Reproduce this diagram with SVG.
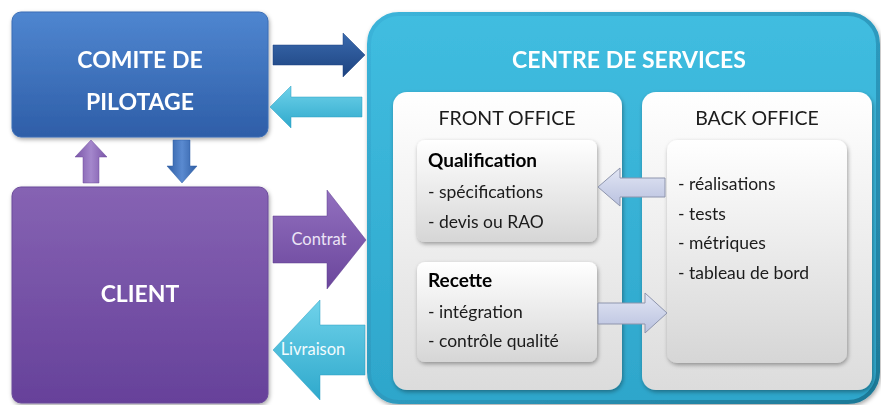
<svg xmlns="http://www.w3.org/2000/svg" width="881" height="405" viewBox="0 0 881 405">
<defs>
<linearGradient id="gBlue" x1="0" y1="0" x2="0" y2="1"><stop offset="0" stop-color="#4f86d0"/><stop offset="1" stop-color="#2e5ea8"/></linearGradient>
<linearGradient id="gPurple" x1="0" y1="0" x2="0" y2="1"><stop offset="0" stop-color="#8663b3"/><stop offset="1" stop-color="#66419a"/></linearGradient>
<linearGradient id="gCyan" x1="0" y1="0" x2="0" y2="1"><stop offset="0" stop-color="#40bde0"/><stop offset="1" stop-color="#2ea6cb"/></linearGradient>
<linearGradient id="gCyanEdge" x1="0" y1="0" x2="1" y2="1"><stop offset="0" stop-color="#3bb4da"/><stop offset="0.6" stop-color="#2b96ba"/><stop offset="1" stop-color="#1d7896"/></linearGradient>
<linearGradient id="gPanel" x1="0" y1="0" x2="0" y2="1"><stop offset="0" stop-color="#ffffff"/><stop offset="1" stop-color="#dcdcdc"/></linearGradient>
<linearGradient id="gBox" x1="0" y1="0" x2="0" y2="1"><stop offset="0" stop-color="#ffffff"/><stop offset="1" stop-color="#d6d6d6"/></linearGradient>
<linearGradient id="gDarkArrow" x1="0" y1="0" x2="0" y2="1"><stop offset="0" stop-color="#3a6aae"/><stop offset="1" stop-color="#1d4380"/></linearGradient>
<linearGradient id="gCyanArrow" x1="0" y1="0" x2="0" y2="1"><stop offset="0" stop-color="#6fd2ea"/><stop offset="1" stop-color="#2fa9cc"/></linearGradient>
<linearGradient id="gPurArrow" x1="0" y1="0" x2="0" y2="1"><stop offset="0" stop-color="#9270bf"/><stop offset="1" stop-color="#6b469c"/></linearGradient>
<linearGradient id="gPurV" x1="0" y1="0" x2="1" y2="0"><stop offset="0" stop-color="#7a55a8"/><stop offset="0.5" stop-color="#a487cc"/><stop offset="1" stop-color="#7a55a8"/></linearGradient>
<linearGradient id="gBlueV" x1="0" y1="0" x2="1" y2="0"><stop offset="0" stop-color="#2f5ea4"/><stop offset="0.5" stop-color="#5a8ad0"/><stop offset="1" stop-color="#2f5ea4"/></linearGradient>
<linearGradient id="gLav" x1="0" y1="0" x2="0" y2="1"><stop offset="0" stop-color="#e2e6f4"/><stop offset="1" stop-color="#b9c1df"/></linearGradient>
<filter id="sh" x="-10%" y="-10%" width="120%" height="125%"><feDropShadow dx="1" dy="2" stdDeviation="2" flood-color="#000" flood-opacity="0.35"/></filter>
</defs>
<style>
.t{font-family:Lato,"Open Sans",sans-serif}
.wb{fill:#ffffff;font-weight:bold;text-anchor:middle;font-size:23px}
.hd{fill:#1a1a1a;font-size:19.5px;text-anchor:middle}
.it{fill:#1a1a1a;font-size:17.5px}
.bt{fill:#000;font-size:19px;font-weight:bold}
.lb{font-size:16.5px;text-anchor:middle}
</style>
<g id="comite" filter="url(#sh)">
<rect x="12" y="12" width="256" height="125" rx="9" fill="url(#gBlue)" stroke="#3a6db5" stroke-width="1"/>
<text class="t wb" x="140" y="68">COMITE DE</text>
<text class="t wb" x="140" y="110">PILOTAGE</text>
</g>
<g id="client" filter="url(#sh)">
<rect x="12" y="187" width="256" height="216" rx="9" fill="url(#gPurple)" stroke="#6b4a9a" stroke-width="1"/>
<text class="t wb" x="140" y="302">CLIENT</text>
</g>
<g id="centre" filter="url(#sh)">
<rect x="369" y="14" width="509" height="388" rx="30" fill="url(#gCyan)" stroke="url(#gCyanEdge)" stroke-width="4"/>
<text class="t wb" x="629" y="68">CENTRE DE SERVICES</text>
</g>
<g id="front-office" filter="url(#sh)">
<rect x="393" y="92" width="229" height="298" rx="14" fill="url(#gPanel)"/>
<text class="t hd" x="507" y="125">FRONT OFFICE</text>
</g>
<g id="back-office" filter="url(#sh)">
<rect x="642" y="92" width="230" height="298" rx="14" fill="url(#gPanel)"/>
<text class="t hd" x="757" y="125">BACK OFFICE</text>
</g>
<g id="qualification" filter="url(#sh)">
<rect x="417" y="140" width="180" height="102" rx="8" fill="url(#gBox)"/>
<text class="t bt" x="428" y="167">Qualification</text>
<text class="t it" x="428" y="198">- spécifications</text>
<text class="t it" x="428" y="228">- devis ou RAO</text>
</g>
<g id="recette" filter="url(#sh)">
<rect x="417" y="262" width="180" height="100" rx="8" fill="url(#gBox)"/>
<text class="t bt" x="428" y="287">Recette</text>
<text class="t it" x="428" y="318">- intégration</text>
<text class="t it" x="428" y="347">- contrôle qualité</text>
</g>
<g id="back-box" filter="url(#sh)">
<rect x="667" y="140" width="180" height="223" rx="10" fill="url(#gBox)"/>
<text class="t it" x="678" y="190">- réalisations</text>
<text class="t it" x="678" y="220">- tests</text>
<text class="t it" x="678" y="249">- métriques</text>
<text class="t it" x="678" y="279">- tableau de bord</text>
</g>
<g id="connectors">
<path d="M273 45 H343 V33 L365 55 L343 77 V65 H273 Z" fill="url(#gDarkArrow)" stroke="#1d4380" stroke-width="0.5"/>
<path d="M362 97 H291 V86 L270 107 L291 128 V117 H362 Z" fill="url(#gCyanArrow)" stroke="#2a9fc2" stroke-width="0.5"/>
<path d="M83 183 V157 H75 L91 140 L107 157 H99 V183 Z" fill="url(#gPurV)" stroke="#6d4b9c" stroke-width="0.5"/>
<path d="M173 140 V166 H167 L182 183 L197 166 H190 V140 Z" fill="url(#gBlueV)" stroke="#2f5ea4" stroke-width="0.5"/>
<path d="M273 216 H327 V190 L366 240 L327 289 V263 H273 Z" fill="url(#gPurArrow)" stroke="#5f3d8e" stroke-width="0.5"/>
<path d="M365 325 H320 V300 L273 350 L320 400 V375 H365 Z" fill="url(#gCyanArrow)" stroke="#2a9fc2" stroke-width="0.5"/>
<path d="M665 178 H620 V168 L598 187 L620 206 V197 H665 Z" fill="url(#gLav)" stroke="#8e95ad" stroke-width="1"/>
<path d="M598 303 H645 V293 L667 313 L645 333 V324 H598 Z" fill="url(#gLav)" stroke="#8e95ad" stroke-width="1"/>
<text class="t lb" x="319" y="245" fill="#ece4f6">Contrat</text>
<text class="t lb" x="313" y="355" fill="#f2fbfe">Livraison</text>
</g>
</svg>
